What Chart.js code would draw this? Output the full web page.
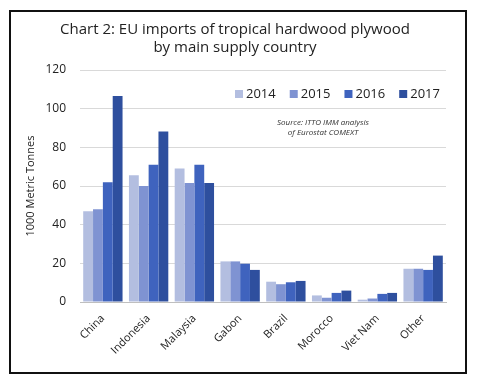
<!DOCTYPE html>
<html>
<head>
<meta charset="utf-8">
<script src="https://cdn.jsdelivr.net/npm/chart.js@4"></script>
<style>
  html, body { margin: 0; padding: 0; background: #fff; }
  #wrap { width: 480px; height: 386px; }
</style>
</head>
<body>
<div id="wrap"><canvas id="plywoodChart" width="480" height="386"></canvas></div>
<script>
// data (1000 metric tonnes)
const countries = ['China', 'Indonesia', 'Malaysia', 'Gabon', 'Brazil', 'Morocco', 'Viet Nam', 'Other'];
const years = ['2014', '2015', '2016', '2017'];
const imports2014 = [47, 65.5, 69, 21, 10.5, 3.4, 1.2, 17.2];
const imports2015 = [48, 60, 61.5, 21, 9.2, 2.2, 1.8, 17.2];
const imports2016 = [62, 71, 71, 19.8, 10.2, 4.7, 4.2, 16.6];
const imports2017 = [106.5, 88.2, 61.5, 16.6, 10.9, 5.9, 4.7, 24];
const yTicks = [0, 20, 40, 60, 80, 100, 120];
const sourceNote = ['Source: ITTO IMM analysis', 'of Eurostat COMEXT'];

const barColors = ['#b3bee0', '#7f93d2', '#3f63be', '#2e4f9e'];
const allSeries = [imports2014, imports2015, imports2016, imports2017];

const fontFamily = '"Open Sans", "Liberation Sans", sans-serif';

// legend squares + source note drawn inside the plot, plus outer frame
const extrasPlugin = {
    id: 'extras',
    afterDraw(chart) {
        const ctx = chart.ctx;
        ctx.save();
        // frame
        ctx.strokeStyle = '#111';
        ctx.lineWidth = 2;
        ctx.strokeRect(10, 11, 456, 362);

        // legend
        ctx.font = '13px ' + fontFamily;
        ctx.textBaseline = 'middle';
        ctx.textAlign = 'left';
        let x = 235;
        const y = 94;
        chart.data.datasets.forEach(ds => {
            ctx.fillStyle = ds.backgroundColor;
            ctx.fillRect(x, y - 4, 8, 8);
            ctx.fillStyle = '#222';
            ctx.fillText(ds.label, x + 11, y);
            x += ctx.measureText(ds.label).width + 25;
        });

        // source note
        ctx.font = 'italic 8px ' + fontFamily;
        ctx.textAlign = 'center';
        ctx.fillStyle = '#333';
        ctx.fillText(sourceNote[0], 323, 123);
        ctx.fillText(sourceNote[1], 323, 133);
        ctx.restore();
    }
};

const ctx = document.getElementById('plywoodChart').getContext('2d');

const plywoodChart = new Chart(ctx, {
    type: 'bar',
    data: {
        labels: countries,
        datasets: years.map((yr, i) => ({
            label: yr,
            data: allSeries[i],
            backgroundColor: barColors[i],
            borderWidth: 0,
            categoryPercentage: 0.86,
            barPercentage: 1.0
        }))
    },
    options: {
        responsive: false,
        animation: false,
        layout: { padding: { left: 24, right: 34, top: 0, bottom: 14 } },
        plugins: {
            legend: { display: false },
            tooltip: { enabled: false },
            title: {
                display: true,
                text: ['Chart 2: EU imports of tropical hardwood plywood', 'by main supply country'],
                color: '#222',
                font: { family: fontFamily, size: 15, weight: 'normal', lineHeight: 1.2 },
                padding: { top: 21, bottom: 13 }
            }
        },
        scales: {
            x: {
                grid: { display: false },
                border: { color: '#bfbfbf' },
                ticks: {
                    color: '#222',
                    font: { family: fontFamily, size: 11 },
                    minRotation: 45,
                    maxRotation: 45,
                    padding: 2
                },
                afterFit(scale) { scale.height = 70; }
            },
            y: {
                min: 0,
                max: 120,
                afterBuildTicks(scale) { scale.ticks = yTicks.map(v => ({ value: v })); },
                grid: { color: '#d9d9d9', drawTicks: false },
                border: { display: false },
                ticks: {
                    color: '#222',
                    font: { family: fontFamily, size: 12 },
                    padding: 14
                },
                title: {
                    display: true,
                    text: '1000 Metric Tonnes',
                    color: '#222',
                    font: { family: fontFamily, size: 11 },
                    padding: 0
                },
                afterFit(scale) { scale.width = 56; }
            }
        }
    },
    plugins: [extrasPlugin]
});
</script>
</body>
</html>
